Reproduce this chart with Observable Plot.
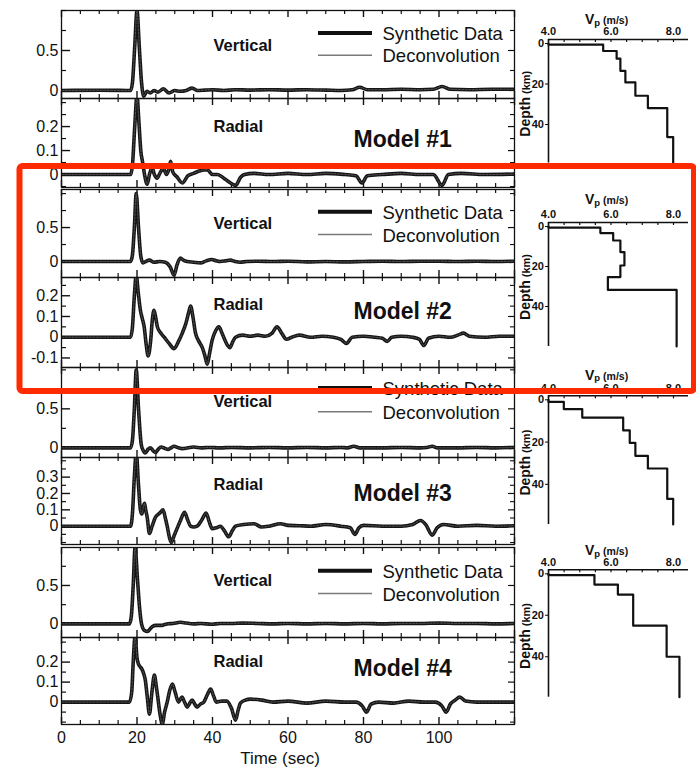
<!DOCTYPE html>
<html><head><meta charset="utf-8">
<script src="https://cdn.jsdelivr.net/npm/d3@7"></script>
<script src="https://cdn.jsdelivr.net/npm/@observablehq/plot@0.6"></script>
<style>
body{margin:0;background:#fff;}
#fig{position:relative;width:696px;height:767px;overflow:hidden;background:#fff;}
#fig svg{position:absolute;left:0;top:0;}
</style></head><body><div id="fig"></div><script>
// ---------------- DATA ----------------
const timeTicks = [0, 20, 40, 60, 80, 100, 120];
const timeLabels = [0, 20, 40, 60, 80, 100];
const modelNames = ["Model #1", "Model #2", "Model #3", "Model #4"];
const componentNames = ["Vertical", "Radial"];
const legendNames = ["Synthetic Data", "Deconvolution"];

// [time (s), amplitude]
const m1Vertical = [[0,0],[10,0.003],[18.3,0],[18.8,0.1],[19.4,0.55],[20,1.0],[20.6,0.55],[21.2,0.1],[21.8,-0.07],[22.6,-0.01],[23.5,-0.03],[24.5,0.0],[25.5,-0.02],[27,0.02],[28.5,-0.03],[30,0],[31.5,-0.01],[33,0.0],[34.6,0.03],[36,0.0],[38,0.005],[40,0.01],[43,0],[46,0.01],[50,0.005],[55,0.01],[60,0.005],[65,0.01],[70,0.005],[74,0.0],[77,0.01],[79,0.04],[81,0.01],[85,0.01],[90,0.015],[95,0.01],[98.5,0.015],[100.8,0.05],[103,0.015],[108,0.01],[114,0.015],[120,0.015]];
const m1Radial = [[0,0],[18.3,0],[18.8,0.04],[19.4,0.2],[20,0.33],[20.5,0.22],[21,0.1],[21.5,0.05],[22,0.0],[22.7,-0.04],[23.3,0.0],[24,0.03],[24.6,0.0],[25.3,-0.015],[26.2,0.01],[27,0.025],[27.8,0.0],[28.4,0.02],[28.9,0.055],[29.5,0.01],[30.6,-0.01],[32,-0.035],[33.5,-0.005],[35,0.005],[36.5,0.015],[38.6,0.02],[40,0.0],[41.3,0.0],[43,-0.015],[44.3,-0.03],[46.1,-0.045],[47.5,-0.01],[48.5,0.0],[51,0.005],[55,0.0],[60,0.005],[65,0.0],[70,0.005],[75,0.0],[78,-0.005],[79.6,-0.035],[81,-0.005],[85,0.0],[90,0.005],[95,0.0],[98.5,0.0],[100.8,-0.045],[102.5,0.0],[106,0.005],[112,0.0],[120,0.002]];
const m2Vertical = [[0,0],[18.3,0],[18.8,0.1],[19.3,0.5],[19.8,1.0],[20.4,0.5],[21,0.08],[21.6,-0.02],[22.3,0.0],[23.3,0.02],[24.5,-0.01],[26,0.0],[27.5,-0.01],[28.8,-0.08],[29.8,-0.2],[30.6,-0.05],[31.5,0.05],[32.3,0.02],[33.3,0.0],[35,-0.01],[36.8,-0.02],[38.3,0.01],[39.8,0.03],[41,0.01],[42,0.0],[43.5,0.01],[44.7,0.02],[46,0.0],[47.3,-0.01],[49,0.0],[52,0.005],[56,0.0],[60,0.005],[65,-0.005],[70,0.0],[75,-0.005],[80,0.0],[85,0.005],[90,0.0],[95,0.005],[100,0.005],[105,0.0],[110,0.005],[115,0.0],[120,0.005]];
const m2Radial = [[0,0],[18.3,0],[18.8,0.05],[19.3,0.2],[19.8,0.3],[20.3,0.22],[20.9,0.13],[21.4,0.09],[21.9,0.05],[22.4,-0.03],[22.96,-0.09],[23.6,-0.02],[24.1,0.09],[24.5,0.13],[24.9,0.1],[25.4,0.05],[26.3,0.02],[27.2,0.0],[28.5,-0.03],[29.8,-0.055],[31,-0.02],[32,0.02],[33,0.07],[33.7,0.12],[34.2,0.15],[34.8,0.1],[35.5,0.02],[36.4,-0.02],[37.3,-0.05],[38,-0.09],[38.6,-0.13],[39.2,-0.08],[39.9,-0.015],[40.8,0.03],[41.7,0.05],[42.5,0.02],[43.2,-0.01],[44,-0.04],[44.6,-0.05],[45.4,-0.02],[46.1,0.0],[48,0.01],[50,0.005],[52,0.01],[54,0.005],[55.8,0.02],[57.1,0.05],[58.3,0.02],[59.6,-0.01],[61,0.0],[63,0.01],[66,0.0],[69,0.005],[72,0.0],[74,-0.01],[75.5,-0.03],[77,0.0],[80,0.005],[83,0.0],[85,-0.005],[86.3,-0.02],[87.5,0.0],[90,0.005],[93,0.0],[94.8,-0.01],[96,-0.04],[97.2,-0.005],[100,0.005],[103,0.0],[105,0.01],[106.5,0.02],[108,0.005],[112,0.0],[116,0.005],[120,0.005]];
const m3Vertical = [[0,0],[18.3,0],[18.8,0.1],[19.3,0.5],[19.8,1.0],[20.4,0.5],[21.1,0.05],[21.6,-0.03],[22.2,-0.066],[22.9,-0.02],[23.6,0.0],[24.3,-0.04],[24.9,-0.06],[25.6,-0.02],[26.4,0.01],[27.3,-0.005],[28.2,-0.02],[29,0.0],[29.8,0.02],[31,0.0],[32,-0.01],[33.5,0.0],[35,0.01],[37,0.0],[39,0.005],[42,0.0],[45,0.005],[50,0.0],[55,0.005],[60,0.0],[65,0.005],[70,0.0],[74,0.005],[75.8,0.0],[77.4,0.02],[79,0.0],[85,0.0],[90,0.005],[95,0.0],[96.8,0.005],[98.2,0.02],[99.6,0.0],[105,0.0],[110,0.005],[115,0.0],[120,0.005]];
const m3Radial = [[0,0],[18.3,0],[18.8,0.08],[19.3,0.3],[19.8,0.45],[20.4,0.25],[20.9,0.1],[21.3,0.075],[21.7,0.12],[22,0.14],[22.3,0.1],[22.7,0.055],[23.3,-0.045],[24,0.0],[24.9,0.055],[26,0.08],[26.9,0.1],[27.5,0.05],[28,0.0],[28.6,-0.07],[29.1,-0.1],[29.8,-0.06],[30.6,-0.015],[31.6,0.04],[32.6,0.085],[33.4,0.04],[34.2,0.0],[35,-0.005],[35.9,0.0],[37.2,0.04],[38.3,0.08],[39.1,0.03],[39.9,-0.015],[41,-0.01],[42.1,0.0],[43.2,-0.03],[44.3,-0.065],[45.2,-0.03],[46.1,0.0],[48.3,0.01],[51,0.015],[53,-0.005],[55,0.0],[58,0.015],[60,0.005],[63,0.003],[66,0.0],[70,0.01],[74,0.0],[76.5,-0.01],[77.7,-0.05],[78.8,-0.01],[80,0.005],[85,0.0],[90,0.0],[93,0.01],[95.1,0.035],[96.5,0.01],[98.2,-0.055],[99.5,-0.01],[101.2,0.01],[105,0.0],[110,0.005],[115,0.0],[120,0.003]];
const m4Vertical = [[0,0],[18.0,0],[18.5,0.1],[19.0,0.5],[19.5,1.0],[20.1,0.6],[20.7,0.2],[21.2,0.0],[22,-0.087],[22.8,-0.1],[23.4,-0.07],[24.1,-0.035],[25,-0.02],[26.4,-0.02],[27.3,-0.01],[28.2,0.0],[29.5,0.005],[31.5,0.02],[33,0.01],[35,0.0],[37,0.005],[39.8,-0.005],[42,0.005],[45,0.005],[48,0.01],[52,0.005],[56,0.0],[60,0.005],[65,0.0],[70,0.005],[75,0.0],[80,0.005],[85,0.0],[90,0.005],[95,0.005],[100,0.01],[105,0.005],[110,0.005],[115,0.0],[120,0.005]];
const m4Radial = [[0,0],[18.0,0],[18.6,0.05],[19.0,0.2],[19.5,0.33],[20.0,0.22],[20.4,0.19],[20.9,0.175],[21.3,0.165],[21.8,0.14],[22.2,0.11],[22.7,0.03],[23.3,-0.06],[23.9,0.04],[24.6,0.135],[25.1,0.08],[25.5,0.025],[26.1,-0.06],[26.7,-0.11],[27.3,-0.05],[28,0.0],[28.7,0.06],[29.4,0.09],[30.1,0.05],[31,0.0],[31.9,0.025],[32.6,0.0],[33.3,-0.025],[34,-0.005],[34.6,0.01],[35.3,-0.01],[35.9,-0.025],[36.8,-0.01],[37.7,0.0],[38.7,0.04],[39.5,0.065],[40.3,0.03],[41,0.0],[42.5,0.005],[43.8,0.005],[45,-0.03],[46.1,-0.09],[46.8,-0.04],[47.4,-0.005],[48.7,0.01],[50,0.015],[53,0.01],[56,0.0],[60,0.005],[65,-0.005],[70,0.005],[75,0.0],[78,0.0],[79.7,-0.02],[80.8,-0.05],[82,-0.01],[84,0.0],[88,-0.005],[92,0.005],[96,0.0],[99,0.0],[100.8,-0.02],[101.9,-0.05],[103,-0.01],[104.3,0.01],[105.5,0.025],[107,0.005],[110,0.0],[115,0.0],[120,0.0]];
// deconvolution traces overlap the synthetics within the line width
const m1VerticalDecon = m1Vertical, m1RadialDecon = m1Radial;
const m2VerticalDecon = m2Vertical, m2RadialDecon = m2Radial;
const m3VerticalDecon = m3Vertical, m3RadialDecon = m3Radial;
const m4VerticalDecon = m4Vertical, m4RadialDecon = m4Radial;

// Velocity models: layer top depth (km) and Vp
const m1LayerTop = [0, 0.6, 3.7, 7.5, 13.5, 19.2, 25.8, 31.9, 46.2];
const m1LayerVp  = [4.0, 5.75, 6.18, 6.3, 6.46, 6.78, 7.18, 7.8, 7.99];
const m2LayerTop = [0, 0.6, 3.3, 7, 12.8, 19.5, 25.3, 31.7];
const m2LayerVp  = [4.0, 5.66, 6.07, 6.3, 6.43, 6.3, 5.9, 8.1];
const m3LayerTop = [0, 1, 4.4, 8.4, 14.5, 20.4, 26.5, 32.5, 46.9];
const m3LayerVp  = [4.0, 4.49, 5.08, 6.39, 6.6, 6.78, 7.18, 7.8, 7.99];
const m4LayerTop = [0, 0.6, 5.2, 10, 25, 40];
const m4LayerVp  = [4.0, 5.47, 6.22, 6.71, 7.78, 8.19];
const profileBottom = [59, 60, 59, 59.5];
const vpTickLabels = [4, 6, 8];
const depthTickLabels = [0, 20, 40];

// ---------------- LAYOUT ----------------
const W = 696, H = 767;
const FONT = '"Liberation Sans", Arial, Helvetica, sans-serif';
const fig = document.getElementById("fig");
const SVGNS = "http://www.w3.org/2000/svg";
const STYLE = `background:transparent;overflow:visible;font-family:${FONT};color:#111;`;

function plotAt({left, right, top, bottom, x, y, marks}) {
  const p = Plot.plot({
    width: W, height: H,
    marginLeft: left, marginRight: W - right, marginTop: top, marginBottom: H - bottom,
    x, y, marks, style: STYLE
  });
  fig.appendChild(p);
}
function segment(x1, x2, y, stroke, width) {
  return () => {
    const l = document.createElementNS(SVGNS, "line");
    l.setAttribute("x1", x1); l.setAttribute("x2", x2);
    l.setAttribute("y1", y); l.setAttribute("y2", y);
    l.setAttribute("stroke", stroke); l.setAttribute("stroke-width", width);
    return l;
  };
}
function richText(parts, {x, y, rotate = 0, anchor = "start"}) {
  return () => {
    const t = document.createElementNS(SVGNS, "text");
    t.setAttribute("transform", `translate(${x},${y}) rotate(${rotate})`);
    t.setAttribute("text-anchor", anchor);
    t.setAttribute("font-weight", "bold");
    t.setAttribute("fill", "#111");
    for (const p of parts) {
      const s = document.createElementNS(SVGNS, "tspan");
      s.setAttribute("font-size", p.size);
      if (p.dy) s.setAttribute("dy", p.dy);
      s.textContent = p.text;
      t.appendChild(s);
    }
    return t;
  };
}

const WL = 61, WR = 514;
const xMajor = timeTicks;
const xMinor = d3.range(0, 121, 5).filter(v => v % 20 !== 0);
const fmt = v => v === 0 ? "0" : String(v);

function wavePanel(c) {
  const ph = c.bottom - c.top, pw = WR - WL;
  const ks = d3.range(Math.ceil(c.domain[0] / c.step - 1e-9), Math.floor(c.domain[1] / c.step + 1e-9) + 1);
  const yAll = ks.map(k => +(k * c.step).toFixed(3));
  const yMinor = yAll.filter(v => !c.labels.includes(v));
  const at = (x, y) => ({frameAnchor: "top-left", dx: x - WL, dy: y - c.top, lineAnchor: "bottom"});
  const marks = [
    Plot.ruleY(yMinor, {insetRight: pw - 5, stroke: "#111", strokeWidth: 1.2}),
    Plot.ruleY(c.labels, {insetRight: pw - 9, stroke: "#111", strokeWidth: 1.4}),
    Plot.ruleY(yMinor, {insetLeft: pw - 4, stroke: "#111", strokeWidth: 1.1}),
    Plot.ruleY(c.labels, {insetLeft: pw - 6, stroke: "#111", strokeWidth: 1.2}),
    Plot.ruleX(xMinor, {insetBottom: ph - 4, stroke: "#111", strokeWidth: 1.2}),
    Plot.ruleX(xMajor, {insetBottom: ph - 7, stroke: "#111", strokeWidth: 1.4}),
    Plot.ruleX(xMinor, {insetTop: ph - 4, stroke: "#111", strokeWidth: 1.2}),
    Plot.ruleX(xMajor, {insetTop: ph - 7, stroke: "#111", strokeWidth: 1.4}),
    Plot.line(c.synth, {x: d => d[0], y: d => d[1], stroke: "#151515", strokeWidth: 3.6, curve: "monotone-x", clip: true}),
    Plot.line(c.decon, {x: d => d[0], y: d => d[1], stroke: "#5c5c5c", strokeWidth: 0.9, strokeDasharray: "2 1.5", curve: "monotone-x", clip: true}),
    Plot.frame({stroke: "#111", strokeWidth: 1.3}),
    Plot.axisY(c.labels, {anchor: "left", tickSize: 0, tickPadding: 3, fontSize: 16, tickFormat: fmt, label: null}),
    Plot.text([c.comp], {...at(213, c.compBase), fontSize: 16.5, fontWeight: "bold", textAnchor: "start", fill: "#111"})
  ];
  if (c.legend) {
    marks.push(segment(318, 372, c.legend[0] - 6.5, "#111", 4));
    marks.push(segment(318, 372, c.legend[1] - 6.5, "#7a7a7a", 1.4));
    marks.push(Plot.text([legendNames[0]], {...at(382, c.legend[0]), fontSize: 18.5, textAnchor: "start", fill: "#111"}));
    marks.push(Plot.text([legendNames[1]], {...at(382, c.legend[1]), fontSize: 18.5, textAnchor: "start", fill: "#111"}));
  }
  if (c.model) {
    marks.push(Plot.text([c.model], {...at(353, c.modelBase), fontSize: 23, fontWeight: "bold", textAnchor: "start", fill: "#111"}));
  }
  if (c.xAxis) {
    marks.push(Plot.axisX(timeLabels, {anchor: "bottom", tickSize: 0, tickPadding: 7.5, fontSize: 16, label: null}));
    marks.push(Plot.text(["Time (sec)"], {frameAnchor: "bottom", dx: -8, dy: 39, lineAnchor: "bottom", fontSize: 17, fill: "#111"}));
  }
  plotAt({left: WL, right: WR, top: c.top, bottom: c.bottom,
    x: {domain: [0, 120], axis: null}, y: {domain: c.domain, axis: null}, marks});
}

const wavePanels = [
  {top: 10, bottom: 98, domain: [-0.1, 1.0], step: 0.25, labels: [0, 0.5], synth: m1Vertical, decon: m1VerticalDecon, comp: componentNames[0], compBase: 50, legend: [39.5, 61.8]},
  {top: 98, bottom: 187, domain: [-0.054, 0.317], step: 0.05, labels: [0, 0.1, 0.2], synth: m1Radial, decon: m1RadialDecon, comp: componentNames[1], compBase: 131.7, model: modelNames[0], modelBase: 146.7},
  {top: 189, bottom: 277, domain: [-0.235, 1.06], step: 0.25, labels: [0, 0.5], synth: m2Vertical, decon: m2VerticalDecon, comp: componentNames[0], compBase: 228.3, legend: [218.3, 241]},
  {top: 277, bottom: 367, domain: [-0.146, 0.288], step: 0.05, labels: [-0.1, 0, 0.1, 0.2], synth: m2Radial, decon: m2RadialDecon, comp: componentNames[1], compBase: 309.3, model: modelNames[1], modelBase: 318},
  {top: 367, bottom: 457, domain: [-0.124, 1.03], step: 0.25, labels: [0, 0.5], synth: m3Vertical, decon: m3VerticalDecon, comp: componentNames[0], compBase: 406.7, legend: [394.5, 418.3]},
  {top: 457, bottom: 544, domain: [-0.112, 0.42], step: 0.05, labels: [0, 0.1, 0.2, 0.3], synth: m3Radial, decon: m3RadialDecon, comp: componentNames[1], compBase: 489.3, model: modelNames[2], modelBase: 500},
  {top: 547, bottom: 637, domain: [-0.178, 0.995], step: 0.25, labels: [0, 0.5], synth: m4Vertical, decon: m4VerticalDecon, comp: componentNames[0], compBase: 585, legend: [577.3, 600]},
  {top: 637, bottom: 724, domain: [-0.112, 0.323], step: 0.05, labels: [0, 0.1, 0.2], synth: m4Radial, decon: m4RadialDecon, comp: componentNames[1], compBase: 666.7, model: modelNames[3], modelBase: 675, xAxis: true}
];
wavePanels.forEach(wavePanel);

// ---------------- VELOCITY PROFILES ----------------
const PL = 548, PR = 688;
const vpMinor = d3.range(8, 17).map(k => k / 2);
function profilePanel(layerTop, layerVp, dmax, top, bottom, labelOffset) {
  const pts = [];
  layerTop.forEach((t, i) => {
    const b = i + 1 < layerTop.length ? layerTop[i + 1] : dmax;
    pts.push([layerVp[i], t], [layerVp[i], b]);
  });
  const ph = bottom - top;
  const cy = (top + bottom) / 2;
  plotAt({left: PL, right: PR, top, bottom,
    x: {domain: [4, 8.48], axis: null}, y: {domain: [0, dmax], reverse: true, axis: null},
    marks: [
      Plot.ruleY([0], {dy: -4, stroke: "#111", strokeWidth: 1.6}),
      Plot.ruleX(vpMinor, {insetBottom: ph - 3, dy: -4, stroke: "#111", strokeWidth: 1.2}),
      Plot.ruleX([4], {insetTop: -4, stroke: "#111", strokeWidth: 1.6}),
      Plot.line(pts, {x: d => d[0], y: d => d[1], stroke: "#111", strokeWidth: 2.2}),
      Plot.axisY(depthTickLabels, {anchor: "left", tickSize: 3, tickPadding: 1.5, fontSize: 11, fontWeight: "bold", label: null}),
      Plot.axisX(vpTickLabels, {anchor: "top", tickSize: 0, tickPadding: 8.2, fontSize: 11, fontWeight: "bold", tickFormat: d => d.toFixed(1), label: null}),
      richText([{text: "V", size: 14}, {text: "p", size: 9.5, dy: 1.5}, {text: " (m/s)", size: 10.5, dy: -1.5}], {x: 585, y: top + labelOffset - 1}),
      richText([{text: "Depth", size: 14}, {text: " (km)", size: 11}], {x: 530, y: cy + 1, rotate: -90, anchor: "middle"})
    ]});
}
profilePanel(m1LayerTop, m1LayerVp, profileBottom[0], 43, 162.5, -18);
profilePanel(m2LayerTop, m2LayerVp, profileBottom[1], 226, 346, -21);
profilePanel(m3LayerTop, m3LayerVp, profileBottom[2], 399.3, 524, -18.6);
profilePanel(m4LayerTop, m4LayerVp, profileBottom[3], 573.3, 696.7, -17.3);

// ---------------- HIGHLIGHT BOX ----------------
fig.appendChild(Plot.plot({
  width: W, height: H, marginLeft: 19, marginTop: 165.5, marginRight: 2.5, marginBottom: H - 390.5,
  marks: [Plot.frame({stroke: "#ff2a00", strokeWidth: 6, rx: 3})], style: STYLE
}));
</script></body></html>
